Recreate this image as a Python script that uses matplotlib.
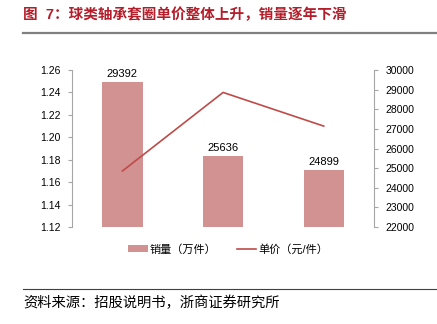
import numpy as np
import matplotlib
matplotlib.use("Agg")
import matplotlib.pyplot as plt
from matplotlib.lines import Line2D

plt.rcParams['font.family'] = ['Liberation Sans', 'Noto Sans CJK SC', 'DejaVu Sans']

# yearly data: sales volume (bars, right axis) and unit price (line, left axis)
categories = ['2017', '2018', '2019']
volume = [29392, 25636, 24899]
price = [1.17, 1.24, 1.21]

title = "图  7：球类轴承套圈单价整体上升，销量逐年下滑"
source = "资料来源：招股说明书，浙商证券研究所"
bar_label = "销量（万件）"
line_label = "单价（元/件）"

bar_color = '#D39292'
line_color = '#BE4B48'
axis_color = '#A6A6A6'

fig = plt.figure(figsize=(4.37, 3.24), dpi=100)
ax = fig.add_axes([0.165, 0.299, 0.691, 0.485])
ax2 = ax.twinx()

x = np.arange(len(categories))

# bars on the right axis
bars = ax2.bar(x, volume, width=0.4, color=bar_color, label=bar_label, zorder=1)
for xi, v in zip(x, volume):
    ax2.annotate(str(v), (xi, v), xytext=(0, 2), textcoords='offset points',
                 ha='center', va='bottom', fontsize=8, color='#000000')
ax2.set_ylim(22000, 30000)
ax2.set_yticks(np.arange(22000, 30001, 1000))

# price line on the left axis, drawn above the bars
line, = ax.plot(x, price, color=line_color, lw=1.2, label=line_label)
ax.set_ylim(1.12, 1.26)
ax.set_yticks(np.arange(1.12, 1.2601, 0.02))
ax.set_yticklabels(['%.2f' % t for t in np.arange(1.12, 1.2601, 0.02)])
ax.set_xlim(-0.5, 2.5)
ax.set_xticks([])
ax.set_zorder(ax2.get_zorder() + 1)
ax.patch.set_visible(False)

for a in (ax, ax2):
    for s in ('top', 'bottom'):
        a.spines[s].set_visible(False)
    a.tick_params(axis='y', labelsize=7.5, colors=axis_color, labelcolor='#000000',
                  length=3, width=0.8)
ax.spines['right'].set_visible(False)
ax.spines['left'].set_color(axis_color)
ax2.spines['left'].set_visible(False)
ax2.spines['right'].set_color(axis_color)
ax.tick_params(axis='y', pad=5)
ax2.tick_params(axis='y', pad=5)

# legend below the plot
fig.legend([bars, line], [bar_label, line_label], loc='center',
           bbox_to_anchor=(0.522, 0.231), ncol=2, frameon=False, fontsize=8,
           handlelength=1.75, handletextpad=0.2, columnspacing=1.8)

# title and rules
fig.text(0.053, 0.953, title, fontsize=10.5, fontweight='bold', color='#B41E2A',
         ha='left', va='center')
fig.add_artist(Line2D([0.053, 1.0], [0.898, 0.898], color='#808080', lw=1.6,
                      transform=fig.transFigure))
fig.add_artist(Line2D([0.053, 1.0], [0.108, 0.108], color='#404040', lw=0.8,
                      transform=fig.transFigure))
fig.text(0.053, 0.065, source, fontsize=10.3, color='#000000', ha='left', va='center')

fig.savefig('out.png', dpi=100)
plt.close(fig)
